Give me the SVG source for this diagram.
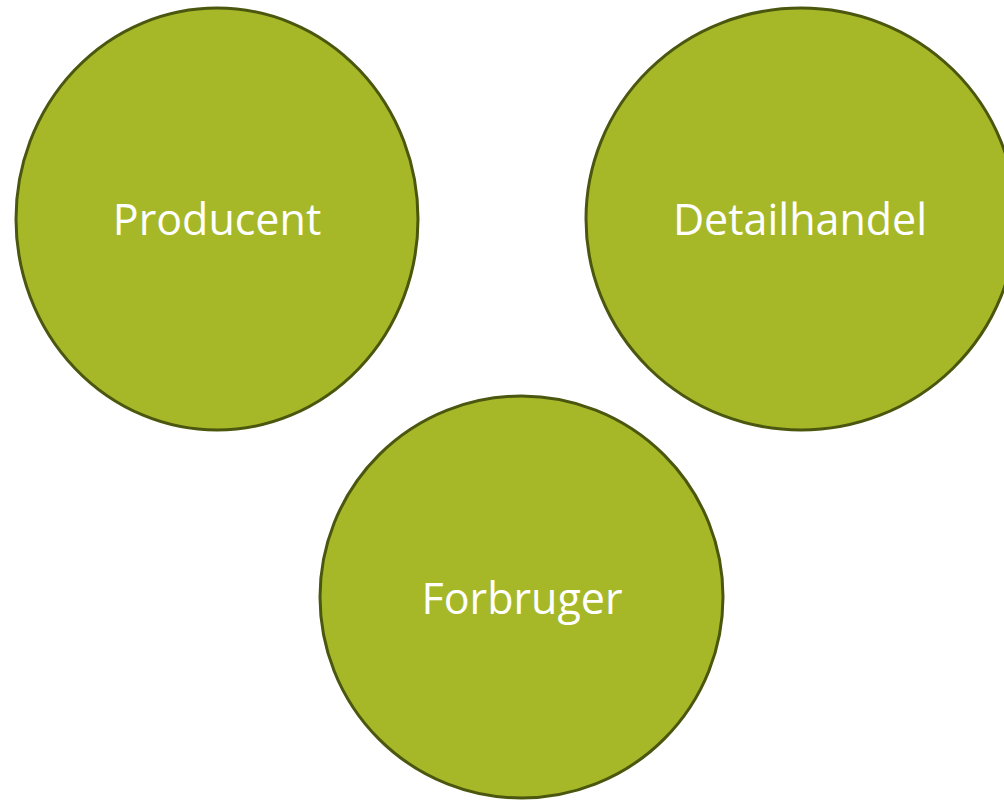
<svg xmlns="http://www.w3.org/2000/svg" width="1004" height="801" viewBox="0 0 1004 801">
<style>
.n{fill:#a6b828;stroke:#4b560f;stroke-width:3}
.t{fill:#ffffff;font-family:"Open Sans","DejaVu Sans",sans-serif;font-size:43px;text-anchor:middle}
</style>
<rect width="1004" height="801" fill="#ffffff"/>
<g id="connectors"></g>
<g id="producent">
<ellipse class="n" cx="217" cy="219" rx="201" ry="211"/>
<text class="t" x="217" y="235">Producent</text>
</g>
<g id="detailhandel">
<ellipse class="n" cx="801" cy="219" rx="215" ry="211"/>
<text class="t" x="800" y="235">Detailhandel</text>
</g>
<g id="forbruger">
<ellipse class="n" cx="521.5" cy="597" rx="201.5" ry="201"/>
<text class="t" x="522" y="614">Forbruger</text>
</g>
</svg>
